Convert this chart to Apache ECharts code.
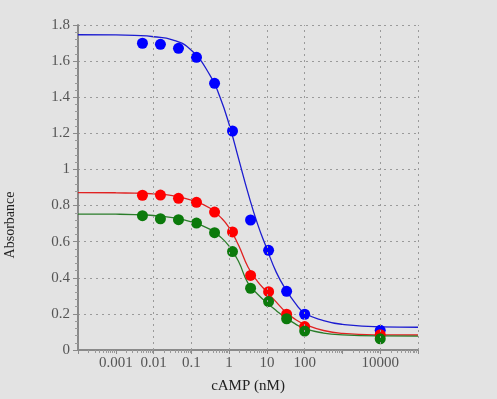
<!DOCTYPE html>
<html>
<head>
<meta charset="utf-8">
<script src="https://cdn.jsdelivr.net/npm/echarts@6/dist/echarts.min.js"></script>
<style>
html,body{margin:0;padding:0;background:#e3e3e3;}
#chart{width:497px;height:399px;}
</style>
</head>
<body>
<div id="chart"></div>
<script>
// Dose points (cAMP, nM)
var doseX = [0.00508, 0.0152, 0.0457, 0.137, 0.412, 1.23, 3.70, 11.1, 33.3, 100, 10000];
var blueDots = [1.699, 1.693, 1.671, 1.621, 1.477, 1.213, 0.720, 0.552, 0.325, 0.198, 0.109];
var redDots = [0.857, 0.858, 0.840, 0.818, 0.764, 0.654, 0.413, 0.323, 0.198, 0.130, 0.085];
var greenDots = [0.744, 0.727, 0.722, 0.703, 0.650, 0.545, 0.342, 0.268, 0.173, 0.105, 0.062];

// Fitted curves
var curveX = [0.0001, 0.001, 0.00316, 0.01, 0.0316, 0.1, 0.316, 0.562, 1, 1.78, 3.16, 5.62, 10, 17.8, 31.6, 56.2, 100, 316, 1000, 10000, 100000];
var blueCurve = [1.746, 1.745, 1.742, 1.735, 1.718, 1.66, 1.52, 1.405, 1.25, 1.06, 0.87, 0.70, 0.56, 0.43, 0.335, 0.26, 0.205, 0.163, 0.142, 0.128, 0.126];
var redCurve = [0.872, 0.871, 0.869, 0.865, 0.855, 0.83, 0.785, 0.74, 0.678, 0.58, 0.46, 0.38, 0.322, 0.265, 0.21, 0.17, 0.142, 0.108, 0.092, 0.084, 0.083];
var greenCurve = [0.753, 0.752, 0.75, 0.745, 0.733, 0.71, 0.668, 0.63, 0.575, 0.49, 0.37, 0.31, 0.262, 0.218, 0.178, 0.145, 0.118, 0.094, 0.084, 0.078, 0.077];

// Tick labels shown on the x axis
var xTickLabels = ['0.001', '0.01', '0.1', '1', '10', '100', '10000'];
var xGridValues = [0.001, 0.01, 0.1, 1, 10, 100, 10000, 100000];

function pairs(xs, ys) { return xs.map(function (x, i) { return [x, ys[i]]; }); }

var chart = echarts.init(document.getElementById('chart'), null, {renderer: 'canvas'});
var serif = '"Liberation Serif", "DejaVu Serif", serif';
var gridStyle = {color: '#9a9a9a', width: 1, type: [2, 4]};

function curveSeries(data, color) {
  return {
    type: 'line', data: data, smooth: 0.5, showSymbol: false,
    symbol: 'none', lineStyle: {color: color, width: 1.3}, z: 3, silent: true
  };
}
function dotSeries(data, color) {
  return {
    type: 'scatter', data: data, symbolSize: 11, itemStyle: {color: color, opacity: 1}, z: 4, silent: true
  };
}

chart.setOption({
  animation: false,
  backgroundColor: '#e3e3e3',
  grid: {left: 78, right: 79, top: 25, bottom: 49, containLabel: false, outerBoundsMode: 'none'},
  xAxis: {
    type: 'log', logBase: 10, min: 0.0001, max: 100000, splitNumber: 9,
    name: 'cAMP (nM)', nameLocation: 'middle', nameGap: 29,
    nameTextStyle: {fontFamily: serif, fontSize: 15, color: '#222'},
    axisLine: {show: true, lineStyle: {color: '#8a8a8a', width: 2}},
    axisTick: {show: true, length: 4, lineStyle: {color: '#8a8a8a'}},
    minorTick: {show: true, splitNumber: 10, length: 3, lineStyle: {color: '#9a9a9a'}},
    splitLine: {show: false},
    axisLabel: {
      margin: 6, fontFamily: serif, fontSize: 15, color: '#555',
      formatter: function (v) {
        var e = Math.round(Math.log10(v));
        var s = e >= 0 ? String(Math.pow(10, e)) : (Math.pow(10, e)).toFixed(-e);
        return xTickLabels.indexOf(s) >= 0 ? s : '';
      }
    }
  },
  yAxis: {
    type: 'value', min: 0, max: 1.8, interval: 0.2,
    axisLine: {show: true, lineStyle: {color: '#8a8a8a', width: 2}},
    axisTick: {show: true, length: 5, lineStyle: {color: '#8a8a8a'}},
    minorTick: {show: true, splitNumber: 5, length: 3, lineStyle: {color: '#9a9a9a'}},
    splitLine: {show: true, lineStyle: gridStyle},
    axisLabel: {margin: 8, fontFamily: serif, fontSize: 15, color: '#555'}
  },
  graphic: [{
    type: 'text', x: 10, y: 225, rotation: Math.PI / 2,
    style: {text: 'Absorbance', fontFamily: serif, fontSize: 14, fill: '#222', align: 'center', verticalAlign: 'middle'}
  }],
  series: [
    {
      type: 'line', data: [], silent: true,
      markLine: {
        silent: true, symbol: 'none', label: {show: false}, animation: false,
        lineStyle: gridStyle,
        data: xGridValues.map(function (v) { return {xAxis: v}; })
      }
    },
    curveSeries(pairs(curveX, blueCurve), '#1c1cd0'),
    curveSeries(pairs(curveX, redCurve), '#e02222'),
    curveSeries(pairs(curveX, greenCurve), '#2a7d2a'),
    dotSeries(pairs(doseX, blueDots), '#0000ff'),
    dotSeries(pairs(doseX, redDots), '#ff0000'),
    dotSeries(pairs(doseX, greenDots), '#0b7a0b')
  ]
});
</script>
</body>
</html>
